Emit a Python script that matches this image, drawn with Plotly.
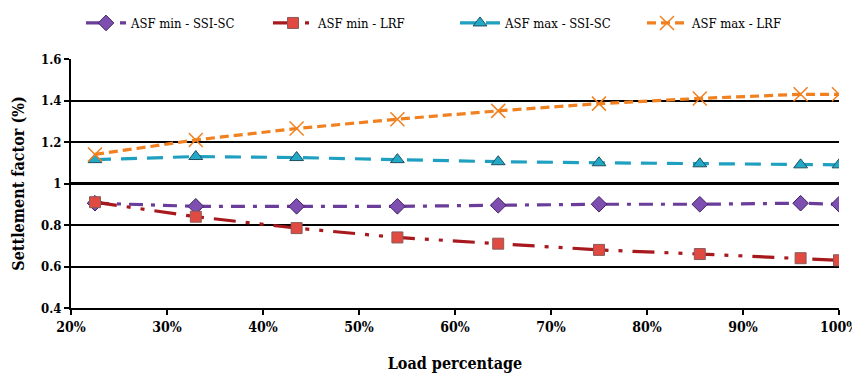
import plotly.graph_objects as go

load_pct = [22.5, 33, 43.5, 54, 64.5, 75, 85.5, 96, 100]
asf_min_ssi = [0.905, 0.89, 0.89, 0.89, 0.895, 0.90, 0.90, 0.905, 0.90]
asf_min_lrf = [0.91, 0.84, 0.785, 0.74, 0.71, 0.68, 0.66, 0.64, 0.63]
asf_max_ssi = [1.115, 1.13, 1.125, 1.115, 1.105, 1.10, 1.095, 1.09, 1.09]
asf_max_lrf = [1.14, 1.21, 1.265, 1.31, 1.35, 1.385, 1.41, 1.43, 1.43]

x_ticks = [20, 30, 40, 50, 60, 70, 80, 90, 100]
x_labels = ["20%", "30%", "40%", "50%", "60%", "70%", "80%", "90%", "100%"]
y_ticks = [0.4, 0.6, 0.8, 1.0, 1.2, 1.4, 1.6]
y_labels = ["0.4", "0.6", "0.8", "1", "1.2", "1.4", "1.6"]

FONT = "'DejaVu Serif Condensed', 'DejaVu Serif', serif"

fig = go.Figure()
fig.add_trace(go.Scatter(
    x=load_pct, y=asf_min_ssi, name="ASF min - SSI-SC", mode="lines+markers",
    line=dict(color="#6A3D9A", width=3.2, dash="14px,8px,4px,8px"),
    marker=dict(symbol="diamond", size=12, color="#7E4FB0", line=dict(color="#3E2260", width=1))))
fig.add_trace(go.Scatter(
    x=load_pct, y=asf_min_lrf, name="ASF min - LRF", mode="lines+markers",
    line=dict(color="#A8191E", width=3.2, dash="22px,10px,4px,10px,4px,10px"),
    marker=dict(symbol="square", size=11, color="#E04A40", line=dict(color="#8A5A5A", width=1))))
fig.add_trace(go.Scatter(
    x=load_pct, y=asf_max_ssi, name="ASF max - SSI-SC", mode="lines+markers",
    line=dict(color="#1FA0C0", width=3.2, dash="16px,10px"),
    marker=dict(symbol="triangle-up", size=12, color="#22A9C8", line=dict(color="#1F4F60", width=1))))
fig.add_trace(go.Scatter(
    x=load_pct, y=asf_max_lrf, name="ASF max - LRF", mode="lines+markers",
    line=dict(color="#F08020", width=3.2, dash="9px,5px"),
    marker=dict(symbol="x-thin-open", size=14, color="#F08020", line=dict(color="#F08020", width=1.5))))

fig.add_hline(y=1.0, line=dict(color="black", width=3), layer="below")

fig.update_layout(
    width=852, height=366,
    margin=dict(l=63, r=21, t=51, b=66, autoexpand=False),
    paper_bgcolor="white", plot_bgcolor="white",
    font=dict(family=FONT, color="black"),
    showlegend=True,
    legend=dict(orientation="h", x=0.5, xanchor="center", y=1.0, yanchor="top",
                yref="container", font=dict(family=FONT, size=13, color="black"),
                entrywidth=132, itemwidth=40, tracegroupgap=0),
    xaxis=dict(range=[20, 100], tickvals=x_ticks, ticktext=x_labels,
               tickfont=dict(family=FONT, size=14, weight="bold"),
               ticklabeloverflow="allow",
               showgrid=False, zeroline=False, showline=True, linecolor="black", linewidth=2,
               ticks="outside", ticklen=5, tickwidth=1.5, tickcolor="black",
               title=dict(text="Load percentage", font=dict(family=FONT, size=16, weight="bold"), standoff=24)),
    yaxis=dict(range=[0.4, 1.6], tickvals=y_ticks, ticktext=y_labels,
               tickfont=dict(family=FONT, size=13, weight="bold"),
               showgrid=True, gridcolor="black", gridwidth=1.8, zeroline=False,
               showline=True, linecolor="black", linewidth=2,
               ticks="outside", ticklen=5, tickwidth=1.5, tickcolor="black",
               title=dict(text="Settlement factor (%)", font=dict(family=FONT, size=16, weight="bold"), standoff=12)),
)

fig.write_html("out.html")
